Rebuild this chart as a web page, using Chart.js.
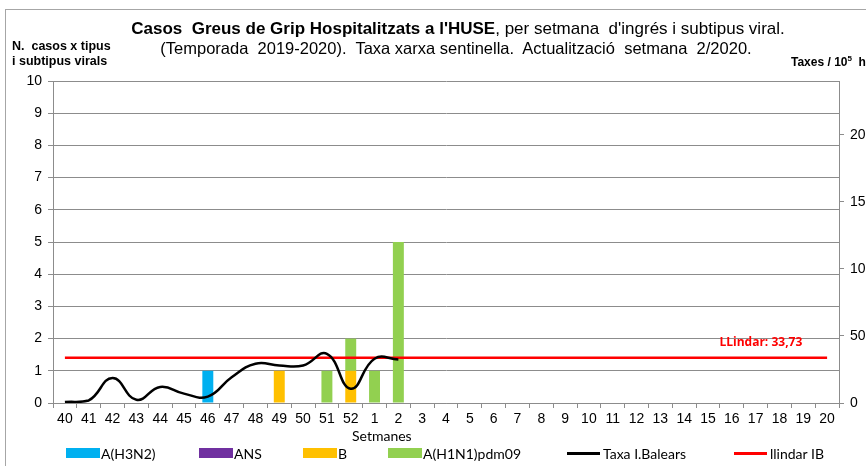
<!DOCTYPE html>
<html>
<head>
<meta charset="utf-8">
<script src="https://cdn.jsdelivr.net/npm/chart.js@4"></script>
<style>
  body { margin: 0; background: #fff; }
  #wrap { position: relative; width: 866px; height: 466px; overflow: hidden; }
  #frame { position: absolute; left: 5px; top: 9px; width: 880px; height: 480px; border: 1px solid #a6a6a6; box-sizing: border-box; }
  canvas { position: absolute; left: 0; top: 0; }
  .txt { position: absolute; white-space: nowrap; color: #000; }
  .nar { font-family: "Liberation Sans Narrow", "Liberation Sans", sans-serif; }
  .leg { position: absolute; top: 446px; font: 14px Lato, "Open Sans", sans-serif; }
  .leg i { position: absolute; left: 0; display: block; }
  .leg span { position: absolute; white-space: nowrap; top: -1px; }
</style>
</head>
<body>
<div id="wrap">
  <div id="frame"></div>
  <canvas id="c" width="866" height="466"></canvas>
  <div class="txt nar" style="left:0;width:916px;text-align:center;top:19px;font-size:17px"><b>Casos&nbsp; Greus de Grip Hospitalitzats a l'HUSE</b>, per setmana&nbsp; d'ingrés i subtipus viral.</div>
  <div class="txt nar" style="left:0;width:912px;text-align:center;top:39px;font-size:16.5px">(Temporada&nbsp; 2019-2020).&nbsp; Taxa xarxa sentinella.&nbsp; Actualització&nbsp; setmana&nbsp; 2/2020.</div>
  <div class="txt nar" style="left:12px;top:39px;font-size:12.5px;font-weight:bold;line-height:15px">N.&nbsp; casos x tipus<br>i subtipus virals</div>
  <div class="txt nar" style="left:791px;top:54px;font-size:12px;font-weight:bold">Taxes / 10<sup style="font-size:8px">5</sup>&nbsp; h</div>
  <div class="txt" style="left:352px;top:427px;font:14px Lato, sans-serif">Setmanes</div>
  <div id="legend"></div>
</div>
<script>
const weeks = ['40','41','42','43','44','45','46','47','48','49','50','51','52',
  '1','2','3','4','5','6','7','8','9','10','11','12','13','14','15','16','17','18','19','20'];
// casos per subtipus (index = setmana)
const h3n2 = [null,null,null,null,null,null,1];
const ans = [];
const bCases = [null,null,null,null,null,null,null,null,null,1,null,null,1];
const h1n1 = [null,null,null,null,null,null,null,null,null,null,null,1,1,1,5];
// taxa per 100.000 h, setmanes 40 a 2
const taxa = [0.7,1.9,18.7,2.4,12,7,4.8,19.2,29.3,28,28,36.7,10.6,33,32.4];
const llindar = 33.73;
const llindarLine = weeks.map(() => llindar);

const cols = { h3n2: '#00b0f0', ans: '#7030a0', b: '#ffc000', h1n1: '#92d050', taxa: '#000000', ll: '#ff0000' };
const grid = '#8c8c8c';

// legend at fixed spots
const legItems = [
  { x: 66, label: 'A(H3N2)', c: cols.h3n2, box: true },
  { x: 199, label: 'ANS', c: cols.ans, box: true },
  { x: 303, label: 'B', c: cols.b, box: true },
  { x: 388, label: 'A(H1N1)pdm09', c: cols.h1n1, box: true },
  { x: 567, label: 'Taxa I.Balears', c: cols.taxa, box: false },
  { x: 734, label: 'llindar IB', c: cols.ll, box: false }
];
var html = '';
legItems.forEach(it => {
  html += '<div class="leg" style="left:' + it.x + 'px">';
  if (it.box) html += '<i style="top:2px;width:34px;height:10px;background:' + it.c + '"></i>';
  else html += '<i style="top:6px;width:33px;height:3px;background:' + it.c + '"></i>';
  html += '<span style="left:' + (it.box ? 35 : 36) + 'px">' + it.label + '</span></div>';
});
document.getElementById('legend').innerHTML = html;

const llindarLabel = {
  id: 'llindarLabel',
  afterDatasetsDraw(chart) {
    const ctx = chart.ctx, x = chart.scales.x, y1 = chart.scales.y1;
    ctx.save();
    ctx.fillStyle = cols.ll;
    ctx.font = 'bold 12px "Open Sans", sans-serif';
    ctx.textAlign = 'right';
    ctx.textBaseline = 'middle';
    ctx.fillText('LLindar: 33,73', x.getPixelForValue(weeks.length - 2) - 1, y1.getPixelForValue(llindar) - 15);
    ctx.restore();
  }
};

new Chart(document.getElementById('c'), {
  data: {
    labels: weeks,
    datasets: [
      { type: 'line', label: 'Taxa I.Balears', data: taxa, yAxisID: 'y1', borderColor: cols.taxa, borderWidth: 2.5, tension: 0.45, pointRadius: 0, order: 0 },
      { type: 'line', label: 'llindar IB', data: llindarLine, yAxisID: 'y1', borderColor: cols.ll, borderWidth: 2.5, pointRadius: 0, order: 1 },
      { type: 'bar', label: 'A(H3N2)', data: h3n2, backgroundColor: cols.h3n2, order: 2 },
      { type: 'bar', label: 'ANS', data: ans, backgroundColor: cols.ans, order: 2 },
      { type: 'bar', label: 'B', data: bCases, backgroundColor: cols.b, order: 2 },
      { type: 'bar', label: 'A(H1N1)pdm09', data: h1n1, backgroundColor: cols.h1n1, order: 2 }
    ]
  },
  options: {
    responsive: false,
    animation: false,
    layout: { padding: { top: 81, left: 0, right: 0, bottom: 0 } },
    datasets: { bar: { barPercentage: 0.46, categoryPercentage: 1 } },
    plugins: { legend: { display: false }, tooltip: { enabled: false } },
    scales: {
      x: {
        stacked: true,
        offset: true,
        grid: { offset: true, drawOnChartArea: false, color: grid, tickLength: 5 },
        border: { color: grid },
        ticks: { color: '#000', font: { family: 'Liberation Sans', size: 14 }, padding: 3, maxRotation: 0, autoSkip: false },
        afterFit: s => { s.height = 63; }
      },
      y: {
        stacked: true,
        min: 0, max: 10,
        ticks: { stepSize: 1, color: '#000', font: { family: 'Liberation Sans', size: 14 }, padding: 6 },
        grid: { color: grid, tickLength: 5 },
        border: { color: grid },
        afterFit: s => { s.width = 53; }
      },
      y1: {
        position: 'right',
        min: 0, max: 240,
        ticks: { stepSize: 50, color: '#000', font: { family: 'Liberation Sans', size: 14 }, padding: 6 },
        grid: { drawOnChartArea: false, color: grid, tickLength: 5 },
        border: { color: grid },
        afterBuildTicks: s => { s.ticks = s.ticks.filter(t => t.value % 50 === 0); },
        afterFit: s => { s.width = 27; }
      }
    }
  },
  plugins: [llindarLabel]
});
</script>
</body>
</html>
